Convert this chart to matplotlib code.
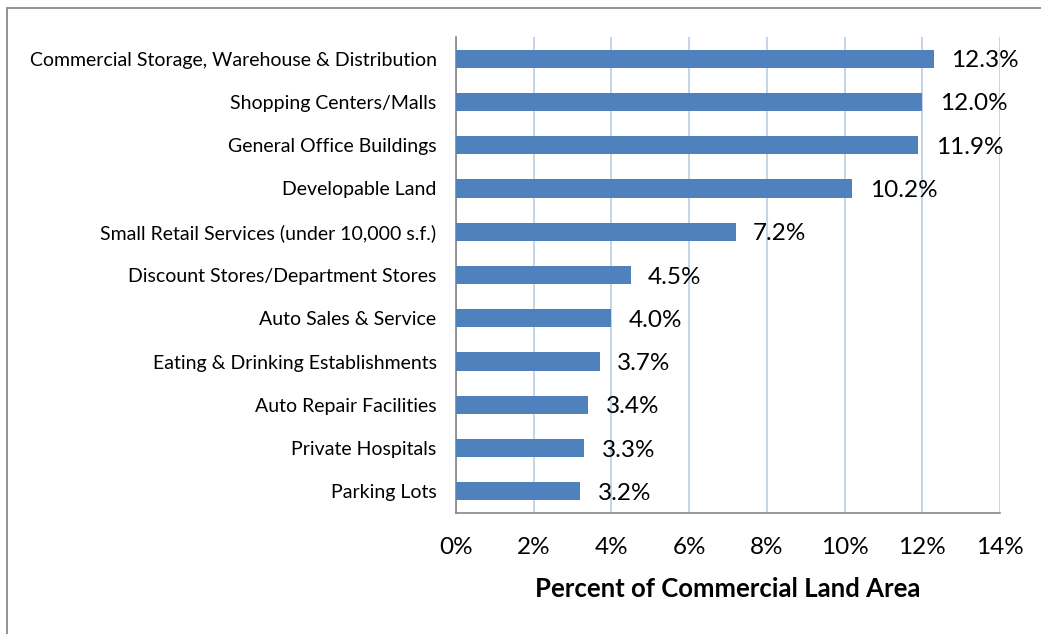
import matplotlib
matplotlib.use("Agg")
import matplotlib.pyplot as plt
from matplotlib.patches import Rectangle

categories = [
    "Commercial Storage, Warehouse & Distribution",
    "Shopping Centers/Malls",
    "General Office Buildings",
    "Developable Land",
    "Small Retail Services (under 10,000 s.f.)",
    "Discount Stores/Department Stores",
    "Auto Sales & Service",
    "Eating & Drinking Establishments",
    "Auto Repair Facilities",
    "Private Hospitals",
    "Parking Lots",
]
values = [12.3, 12.0, 11.9, 10.2, 7.2, 4.5, 4.0, 3.7, 3.4, 3.3, 3.2]
xticks = [0, 2, 4, 6, 8, 10, 12, 14]
xticklabels = ["0%", "2%", "4%", "6%", "8%", "10%", "12%", "14%"]

plt.rcParams['font.family'] = ['Lato', 'DejaVu Sans']

fig = plt.figure(figsize=(10.41, 6.34), dpi=100)
ax = fig.add_axes([456/1041, 1-513/634, (1000-456)/1041, (513-37)/634])

# outer border
fig.patches.append(Rectangle((7/1041, -0.05), 1.1, (634-8)/634 + 0.05,
                             transform=fig.transFigure, fill=False,
                             edgecolor="#7f7f7f", linewidth=1.2))

n = len(categories)
ypos = list(range(n))[::-1]
ax.barh(ypos, values, height=0.42, color="#4f81bd", zorder=3)

for y, v in zip(ypos, values):
    ax.annotate(f"{v:.1f}%", (v, y), xytext=(12.5, -1.5), textcoords="offset points",
                ha="left", va="center", fontsize=17.5, color="black")

ax.set_xlim(0, 14)
ax.set_ylim(-0.5, n - 0.5)
ax.set_xticks(xticks)
ax.set_xticklabels(xticklabels, fontsize=17.5)
ax.set_yticks(ypos)
ax.set_yticklabels(categories, fontsize=14)
ax.tick_params(axis="both", length=0)
ax.tick_params(axis="x", pad=17)
ax.tick_params(axis="y", pad=14)
ax.grid(axis="x", color="#b9cde5", linewidth=1.2, zorder=0)
ax.set_axisbelow(True)
for s in ["top", "right"]:
    ax.spines[s].set_visible(False)
for s in ["left", "bottom"]:
    ax.spines[s].set_color("#868686")
    ax.spines[s].set_linewidth(1.2)

ax.set_xlabel("Percent of Commercial Land Area", fontsize=18.5, fontweight="bold", labelpad=14)

fig.savefig("out.png", dpi=100)
